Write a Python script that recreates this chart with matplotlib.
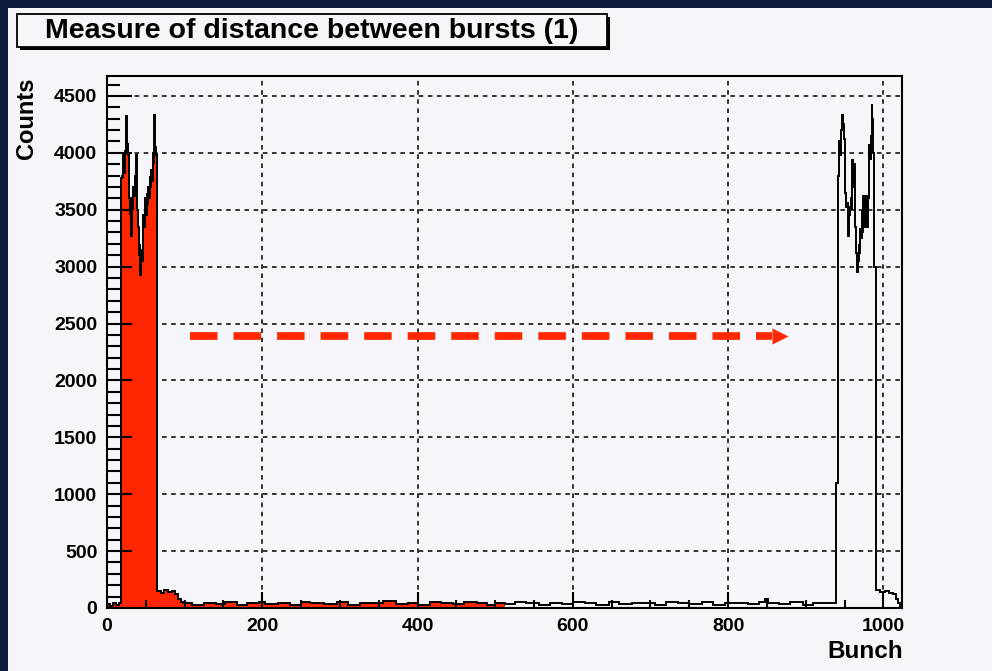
import numpy as np
import matplotlib
matplotlib.use("Agg")
import matplotlib.pyplot as plt
from matplotlib.patches import Rectangle

# ---- histogram contents (Counts per bunch) ----
pre_edges = [0, 4, 8, 12, 15, 18]
pre_vals = [35, 20, 45, 30, 40]

burst1_start = 18
burst1_vals = [3780, 3800, 3780, 4000, 3820, 4020, 4100, 4320, 4080, 3980,
               3600, 3450, 3550, 3270, 3600, 3500, 3700, 3620, 3800, 3980,
               3700, 3500, 3350, 3100, 3200, 2930, 3150, 3050, 3300, 3450,
               3350, 3600, 3450, 3650, 3550, 3700, 3600, 3800, 3700, 3850,
               3750, 4000, 3900, 4330, 4050, 3980, 4000]

post1_edges = [65, 70, 74, 79, 84, 88, 92, 95, 98]
post1_vals = [150, 135, 155, 140, 150, 125, 80, 50]

base_edges = [98, 110, 125, 140, 152, 168, 180, 196, 204, 220,
              236, 250, 262, 280, 296, 310, 326, 340, 356, 372,
              388, 400, 416, 430, 446, 460, 476, 490, 500, 512,
              526, 540, 556, 570, 586, 600, 616, 630, 646, 660,
              676, 690, 706, 720, 736, 750, 766, 780, 796, 810,
              826, 840, 848, 852, 866, 880, 896, 910, 926, 939]
base_vals = [40, 30, 45, 35, 50, 30, 40, 55, 35, 45,
             30, 50, 40, 35, 55, 30, 45, 40, 60, 35,
             45, 30, 50, 40, 35, 55, 40, 30, 45, 35,
             50, 40, 30, 45, 35, 55, 40, 30, 50, 35,
             45, 40, 30, 55, 40, 35, 50, 30, 45, 40,
             35, 50, 75, 40, 35, 50, 30, 45, 40]

burst2_start = 939
burst2_vals = [1100, 1100, 3780, 3800, 4100, 3980, 4160, 4200, 4330, 4250,
               4120, 4100, 3650, 3520, 3560, 3500, 3270, 3450, 3520, 3600,
               3500, 3940, 3700, 3900, 3600, 3350, 3120, 2950, 3050, 3200,
               3120, 3330, 3250, 3500, 3300, 3620, 3350, 3600, 3400, 3620,
               3350, 3600, 3700, 4070, 3950, 4150, 4430, 4300, 4000, 3000,
               3000]

post2_edges = [990, 996, 1002, 1007, 1012, 1016, 1019, 1021, 1024]
post2_vals = [160, 140, 150, 130, 125, 80, 40, 10]

red_limit = 512  # first half of the range is filled

x_major = [0, 200, 400, 600, 800, 1000]
y_major = [0, 500, 1000, 1500, 2000, 2500, 3000, 3500, 4000, 4500]
x_lim = (0, 1024)
y_lim = (0, 4675)

# dashed arrow showing the distance between bursts
arrow_x0, arrow_x1, arrow_y = 107, 878, 2390

# ---- assemble the histogram ----
b1_edges = list(np.arange(burst1_start, burst1_start + len(burst1_vals)))
b2_edges = list(np.arange(burst2_start, burst2_start + len(burst2_vals)))
edges = np.array(pre_edges[:-1] + b1_edges + post1_edges[:-1] + base_edges[:-1]
                 + b2_edges + post2_edges, dtype=float)
counts = np.array(pre_vals + burst1_vals + post1_vals + base_vals
                  + burst2_vals + post2_vals, dtype=float)

W, H = 992, 671
fig = plt.figure(figsize=(W / 100, H / 100), dpi=100, facecolor="#0b1a3a")
panel_col = "#f6f5f9"
fig.add_artist(Rectangle((8 / W, 0), 1, 1 - 8 / H, transform=fig.transFigure,
                         facecolor=panel_col, edgecolor="none", zorder=-10))

ax_w, ax_h = 795, 532
ax = fig.add_axes([107 / W, 1 - 608 / H, ax_w / W, ax_h / H])
ax.set_facecolor(panel_col)
ax.set_xlim(*x_lim)
ax.set_ylim(*y_lim)

# dashed grid under everything
for xv in x_major[1:]:
    ax.axvline(xv, color="black", ls=(0, (3, 3)), lw=1.1, zorder=1)
for yv in y_major[1:]:
    ax.axhline(yv, color="black", ls=(0, (3, 3)), lw=1.1, zorder=1)

red = edges[1:] <= red_limit
n_red = int(red.sum())
ax.stairs(counts[:n_red], edges[:n_red + 1], fill=True, color="#ff2600",
          baseline=0, zorder=3)
ax.stairs(counts, edges, color="black", lw=1.4, baseline=0, zorder=4)

# ROOT style tick marks drawn inside the frame (in data units)
y_minor = np.arange(0, y_lim[1], 100)
x_minor = np.arange(0, x_lim[1], 50)
dx_px = (x_lim[1] - x_lim[0]) / ax_w
dy_px = (y_lim[1] - y_lim[0]) / ax_h
ax.hlines(y_minor, 0, np.where(y_minor % 500 == 0, 25, 13) * dx_px,
          colors="black", lw=1.5, zorder=5)
ax.vlines(x_minor, 0, np.where(x_minor % 200 == 0, 16, 8) * dy_px,
          colors="black", lw=1.5, zorder=5)

ax.set_xticks(x_major)
ax.set_yticks(y_major)
ax.tick_params(axis="y", length=0, pad=7, labelsize=14)
ax.tick_params(axis="x", length=0, pad=7, labelsize=14)
for lab in ax.get_xticklabels() + ax.get_yticklabels():
    lab.set_fontweight("bold")
    lab.set_fontfamily("Liberation Sans")
for sp in ax.spines.values():
    sp.set_linewidth(1.5)
    sp.set_zorder(6)

# red dashed arrow
ax.plot([arrow_x0, arrow_x1 - 22], [arrow_y, arrow_y], color="#ff2600", lw=5.5,
        ls=(0, (3.6, 2.1)), solid_capstyle="butt", zorder=5)
ax.plot([arrow_x1 - 11], [arrow_y], marker=">", color="#ff2600", ms=12,
        mec="none", zorder=5)

# title box with shadow
bx, by, bw, bh = 17, 14, 590, 33
fig.add_artist(Rectangle(((bx + 3) / W, 1 - (by + bh + 3) / H), bw / W, bh / H,
                         transform=fig.transFigure, facecolor="black",
                         edgecolor="none"))
fig.add_artist(Rectangle((bx / W, 1 - (by + bh) / H), bw / W, bh / H,
                         transform=fig.transFigure, facecolor=panel_col,
                         edgecolor="black", lw=1.3))
fig.text((bx + bw / 2) / W, 1 - (by + bh / 2) / H,
         "Measure of distance between bursts (1)", ha="center", va="center",
         fontsize=20.5, fontweight="bold", family="Liberation Sans")

fig.text(26 / W, 1 - 118 / H, "Counts", rotation=90, ha="center", va="center",
         fontsize=17, fontweight="bold", family="Liberation Sans")
fig.text(903 / W, 1 - 651 / H, "Bunch", ha="right", va="center",
         fontsize=17.5, fontweight="bold", family="Liberation Sans")

fig.savefig("out.png", dpi=100, facecolor=fig.get_facecolor())
